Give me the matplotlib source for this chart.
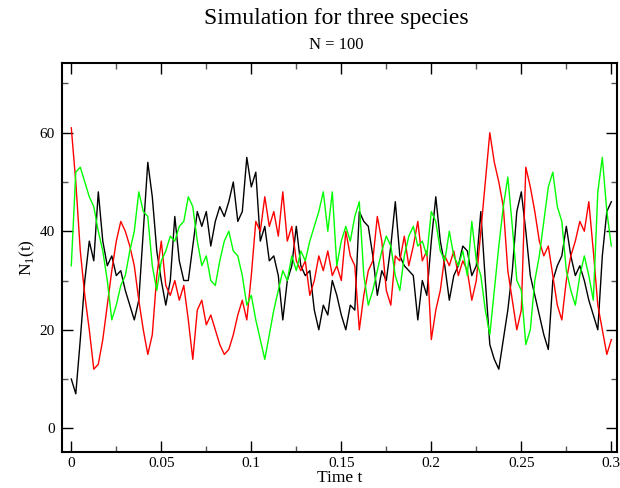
import numpy as np
import matplotlib
matplotlib.use("Agg")
import matplotlib.pyplot as plt
from matplotlib.ticker import MultipleLocator

# time grid (step 0.0025)
t = np.linspace(0.0, 0.3, 121)

black = [10, 7, 18, 30, 38, 34, 48, 38, 33, 35,
         31, 32, 28, 25, 22, 26, 40, 54, 47, 36,
         30, 25, 30, 43, 34, 30, 30, 37, 44, 41,
         44, 37, 42, 45, 43, 46, 50, 42, 44, 55,
         49, 52, 38, 41, 34, 35, 31, 22, 30, 33,
         41, 33, 31, 32, 24, 20, 25, 23, 30, 27,
         23, 20, 25, 24, 44, 42, 41, 35, 27, 32,
         30, 37, 46, 35, 33, 32, 31, 22, 30, 27,
         38, 47, 38, 33, 26, 31, 33, 37, 36, 31,
         33, 44, 30, 17, 14, 12, 18, 24, 32, 44,
         48, 40, 31, 27, 23, 19, 16, 30, 33, 35,
         41, 35, 31, 33, 30, 26, 23, 20, 35, 44,
         46]

red = [61, 50, 36, 27, 20, 12, 13, 18, 25, 32,
       38, 42, 40, 37, 33, 26, 20, 15, 19, 31,
       38, 29, 27, 30, 26, 29, 22, 14, 24, 26,
       21, 23, 20, 17, 15, 16, 19, 23, 26, 22,
       31, 42, 40, 47, 41, 44, 39, 48, 38, 41,
       34, 32, 34, 27, 30, 35, 32, 36, 31, 33,
       30, 40, 35, 33, 20, 27, 32, 34, 43, 38,
       28, 25, 35, 34, 39, 33, 37, 42, 34, 36,
       18, 24, 28, 35, 33, 36, 31, 34, 32, 26,
       30, 40, 50, 60, 54, 50, 45, 32, 26, 20,
       24, 53, 49, 44, 38, 35, 37, 31, 25, 22,
       30, 35, 38, 42, 40, 46, 36, 25, 20, 15,
       18]

green = [33, 52, 53, 50, 47, 45, 40, 36, 30, 22,
         25, 29, 31, 36, 40, 48, 44, 43, 33, 28,
         34, 36, 39, 38, 41, 42, 47, 45, 38, 33,
         35, 30, 29, 34, 38, 40, 36, 35, 31, 25,
         27, 22, 18, 14, 19, 24, 28, 32, 30, 35,
         32, 36, 34, 38, 41, 44, 48, 40, 48, 33,
         38, 41, 38, 43, 46, 31, 25, 28, 32, 36,
         39, 37, 31, 28, 35, 39, 41, 37, 38, 35,
         44, 42, 36, 34, 40, 35, 33, 36, 31, 42,
         34, 31, 24, 19, 28, 37, 45, 51, 41, 30,
         28, 17, 20, 30, 35, 42, 49, 52, 45, 42,
         32, 28, 25, 31, 35, 31, 26, 48, 55, 44,
         37]

title = "Simulation for three species"
subtitle = "N = 100"
xlabel = "Time t"
ylabel = "N$_\\mathregular{1}$(t)"

plt.rcParams['font.family'] = ['Liberation Serif', 'DejaVu Serif']
plt.rcParams['mathtext.fontset'] = 'custom'
plt.rcParams['mathtext.rm'] = 'Liberation Serif'

fig = plt.figure(figsize=(6.2, 4.88), dpi=100)
ax = fig.add_axes([0.1, 0.0744, 0.895, 0.7959])

ax.plot(t, black, color='black', lw=1.0)
ax.plot(t, red, color='#ff0000', lw=1.0)
ax.plot(t, green, color='#00ff00', lw=1.0)

ax.set_xlim(-0.00516, 0.3031)
ax.set_ylim(-4.75, 74.1)
ax.xaxis.set_major_locator(MultipleLocator(0.05))
ax.xaxis.set_minor_locator(MultipleLocator(0.025))
ax.yaxis.set_major_locator(MultipleLocator(20))
ax.yaxis.set_minor_locator(MultipleLocator(10))
ax.set_xticks([0, 0.05, 0.1, 0.15, 0.2, 0.25, 0.3])
ax.set_xticklabels(["0", "0.05", "0.1", "0.15", "0.2", "0.25", "0.3"])
ax.tick_params(which='both', direction='in', top=True, right=True,
               labelsize=11, colors='black')
ax.tick_params(which='major', length=8, width=1.0)
ax.tick_params(axis='x', which='major', pad=4)
ax.tick_params(axis='y', which='major', pad=5)
ax.tick_params(which='minor', length=4.5, width=1.0, color='#555555')
for s in ax.spines.values():
    s.set_linewidth(1.5)

ax.set_xlabel(xlabel, fontsize=12.5, labelpad=0)
ax.set_ylabel(ylabel, fontsize=12.5, labelpad=2)

fig.text(0.543, 0.963, title, ha='center', va='center', fontsize=17)
fig.text(0.543, 0.908, subtitle, ha='center', va='center', fontsize=12)

fig.savefig("out.png", dpi=100)
